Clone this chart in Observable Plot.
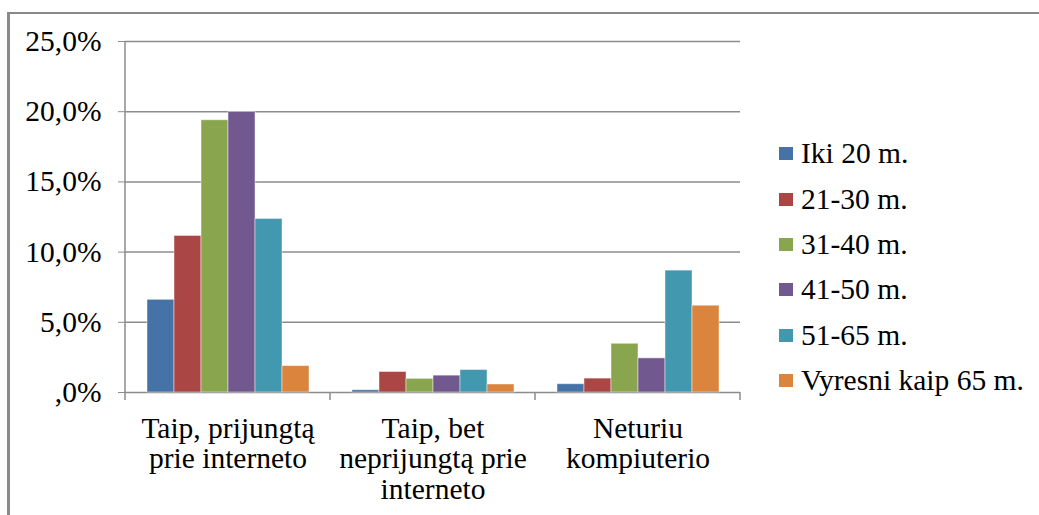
<!DOCTYPE html>
<html>
<head>
<meta charset="utf-8">
<script src="https://cdn.jsdelivr.net/npm/d3@7"></script>
<script src="https://cdn.jsdelivr.net/npm/@observablehq/plot@0.6"></script>
<style>
  html, body { margin: 0; padding: 0; background: #fff; }
  #wrap { position: relative; width: 1039px; height: 515px; overflow: hidden; background: #fff; }
  #chart { position: absolute; left: 0; top: 0; }
  #border { position: absolute; left: 7px; top: 12px; width: 1200px; height: 700px;
            border-top: 2px solid #878787; border-left: 3px solid #8a8a8a; pointer-events: none; }
  #legend { position: absolute; left: 779px; top: 131px;
            font-family: "Liberation Serif", Tinos, "Times New Roman", serif; font-size: 29.5px; color: #000; }
  .row { display: flex; align-items: center; height: 45.4px; white-space: nowrap; }
  .sw { width: 14px; height: 13px; margin-right: 8px; flex: none; }
</style>
</head>
<body>
<div id="wrap">
  <div id="chart"></div>
  <div id="legend"></div>
  <div id="border"></div>
</div>
<script>
// ---- data ----
const categories = ["Taip, prijungtą prie interneto", "Taip, bet neprijungtą prie interneto", "Neturiu kompiuterio"];
const categoryLabels = ["Taip, prijungtą\nprie interneto", "Taip, bet\nneprijungtą prie\ninterneto", "Neturiu\nkompiuterio"];
const series = ["Iki 20 m.", "21-30 m.", "31-40 m.", "41-50 m.", "51-65 m.", "Vyresni kaip 65 m."];
const colors = ["#4572A7", "#AA4643", "#89A54E", "#71588F", "#4198AF", "#DB843D"];
const iki20 = [6.6, 0.16, 0.59];
const m21_30 = [11.15, 1.46, 0.99];
const m31_40 = [19.39, 0.97, 3.47];
const m41_50 = [19.98, 1.2, 2.43];
const m51_65 = [12.36, 1.6, 8.68];
const vyresni65 = [1.88, 0.57, 6.18];
const yTicks = [0, 5, 10, 15, 20, 25];
const yTickLabels = [",0%", "5,0%", "10,0%", "15,0%", "20,0%", "25,0%"];

const seriesValues = [iki20, m21_30, m31_40, m41_50, m51_65, vyresni65];
const data = [];
categories.forEach((c, ci) => {
  series.forEach((s, si) => data.push({category: c, series: s, value: seriesValues[si][ci]}));
});

const font = '"Liberation Serif", Tinos, "Times New Roman", serif';
const gridColor = "#8c8c8c";

const plot = Plot.plot({
  width: 1039,
  height: 515,
  marginLeft: 125,
  marginRight: 299,
  marginTop: 41,
  marginBottom: 123,
  style: {fontFamily: font, fontSize: "29.5px", color: "#000", background: "transparent", overflow: "visible"},
  fx: {domain: categories, padding: 0, axis: null},
  x: {domain: series, paddingInner: 0, paddingOuter: 0.77, axis: null},
  y: {domain: [0, 25], axis: null},
  color: {domain: series, range: colors},
  marks: [
    Plot.gridY(yTicks, {stroke: gridColor, strokeOpacity: 1, strokeWidth: 1.5}),
    Plot.barY(data, {fx: "category", x: "series", y: "value", fill: "series",
                     stroke: "#ffffff", strokeOpacity: 0.45, strokeWidth: 1}),
    Plot.axisY(yTicks, {tickSize: 7, tickPadding: 17, stroke: gridColor, strokeOpacity: 1,
                        tickFormat: d => yTickLabels[yTicks.indexOf(d)],
                        fontSize: 29.5, fill: "#000", label: null}),
    Plot.text(categories, {fx: d => d, text: (d, i) => categoryLabels[i], frameAnchor: "bottom",
                           lineAnchor: "top", dy: 23, lineHeight: 1.05, fontSize: 29.5, fill: "#000"})
  ]
});
document.getElementById("chart").appendChild(plot);
d3.select(plot).selectAll("text").style("font-family", font);

// axis line and category boundary ticks, from Plot's own scales
const fxS = plot.scale("fx");
const yS = plot.scale("y");
const bounds = categories.map(c => fxS.apply(c));
bounds.push(fxS.apply(categories[categories.length - 1]) + fxS.bandwidth);
const y0 = yS.apply(0), yTop = yS.apply(25);
const g = d3.select(plot).append("g").attr("stroke", gridColor).attr("stroke-width", 1.5);
g.append("line").attr("x1", bounds[0]).attr("x2", bounds[0]).attr("y1", yTop).attr("y2", y0);
bounds.forEach(b => g.append("line").attr("x1", b).attr("x2", b).attr("y1", y0).attr("y2", y0 + 8));

// legend
const lg = document.getElementById("legend");
series.forEach((s, i) => {
  const row = document.createElement("div");
  row.className = "row";
  const sw = document.createElement("div");
  sw.className = "sw";
  sw.style.background = colors[i];
  const t = document.createElement("span");
  t.textContent = s;
  row.appendChild(sw);
  row.appendChild(t);
  lg.appendChild(row);
});
</script>
</body>
</html>
